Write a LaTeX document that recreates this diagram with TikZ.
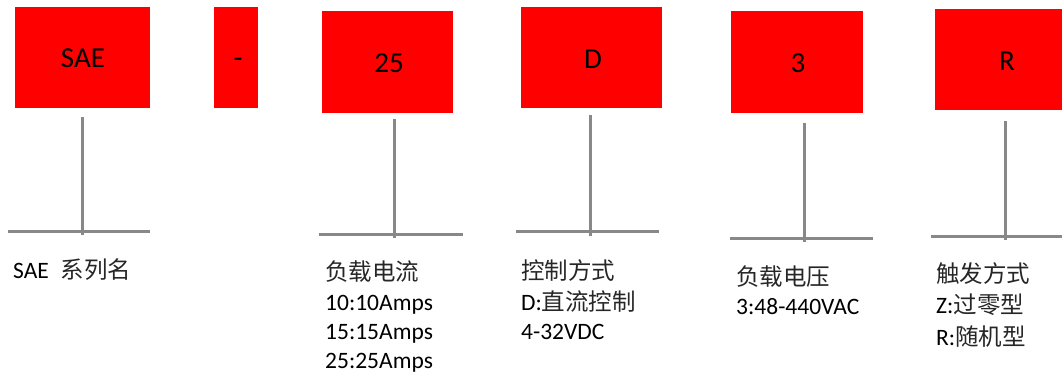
\documentclass[tikz,border=0pt]{standalone}
\usepackage{fontspec}
\setmainfont{Carlito}
\newfontfamily\cjk{Noto Sans CJK SC}
\definecolor{boxred}{RGB}{255,0,0}
\definecolor{linegray}{RGB}{136,136,136}
\newcommand{\zh}[1]{{\cjk\color{black!85}#1}}
\begin{document}
\begin{tikzpicture}[x=1pt,y=-1pt,
  codebox/.style={fill=boxred,draw=none,inner sep=0pt,font=\fontsize{29}{32}\selectfont},
  stem/.style={draw=linegray,line width=3pt},
  label/.style={anchor=base west,inner sep=0pt,font=\fontsize{23.5}{30}\selectfont}]
\useasboundingbox (0,0) rectangle (1062,373);
% boxes
\fill[boxred] (15,7) rectangle (150,108);
\node[codebox] (bSAE) at (83,58) {\vphantom{0}SAE};
\fill[boxred] (214,7) rectangle (258,108);
\node[codebox] (bdash) at (238,58) {\vphantom{0}-};
\fill[boxred] (322,11) rectangle (453,113);
\node[codebox] (b25) at (389,63) {\vphantom{0}25};
\fill[boxred] (521,7) rectangle (662,108);
\node[codebox] (bD) at (593,59) {\vphantom{0}D};
\fill[boxred] (731,11) rectangle (863,113);
\node[codebox] (b3) at (798,63) {\vphantom{0}3};
\fill[boxred] (935,9) rectangle (1075,110);
\node[codebox] (bR) at (1007,61) {\vphantom{0}R};
% stems
\coordinate (t1) at (82,117); \coordinate (e1) at (82,235);
\coordinate (l1) at (8,231); \coordinate (r1) at (150,231);
\coordinate (t2) at (394,119); \coordinate (e2) at (394,238);
\coordinate (l2) at (319,234); \coordinate (r2) at (463,234);
\coordinate (t3) at (590,115); \coordinate (e3) at (590,236);
\coordinate (l3) at (516,231.5); \coordinate (r3) at (659,231.5);
\coordinate (t4) at (804,123); \coordinate (e4) at (804,242);
\coordinate (l4) at (730,238); \coordinate (r4) at (873,238);
\coordinate (t5) at (1005,121); \coordinate (e5) at (1005,240);
\coordinate (l5) at (931,236); \coordinate (r5) at (1070,236);
\foreach \i in {1,...,5}{
  \draw[stem] (t\i) -- (e\i);
  \draw[stem] (l\i) -- (r\i);
}
% labels
\node[label] (n1) at (13,278) {SAE\hspace{12pt}\zh{系列名}};
\node[label] (n2a) at (325,280) {\zh{负载电流}};
\node[label] (n2b) at (325,310) {10:10Amps};
\node[label] (n2c) at (325,339) {15:15Amps};
\node[label] (n2d) at (325,368) {25:25Amps};
\node[label] (n3a) at (521,279) {\zh{控制方式}};
\node[label] (n3b) at (521,310) {D:\zh{直流控制}};
\node[label] (n3c) at (521,339) {4-32VDC};
\node[label] (n4a) at (736,285) {\zh{负载电压}};
\node[label] (n4b) at (736,314) {3:48-440VAC};
\node[label] (n5a) at (936,282) {\zh{触发方式}};
\node[label] (n5b) at (936,313) {Z:\zh{过零型}};
\node[label] (n5c) at (936,345) {R:\zh{随机型}};
\end{tikzpicture}
\end{document}
